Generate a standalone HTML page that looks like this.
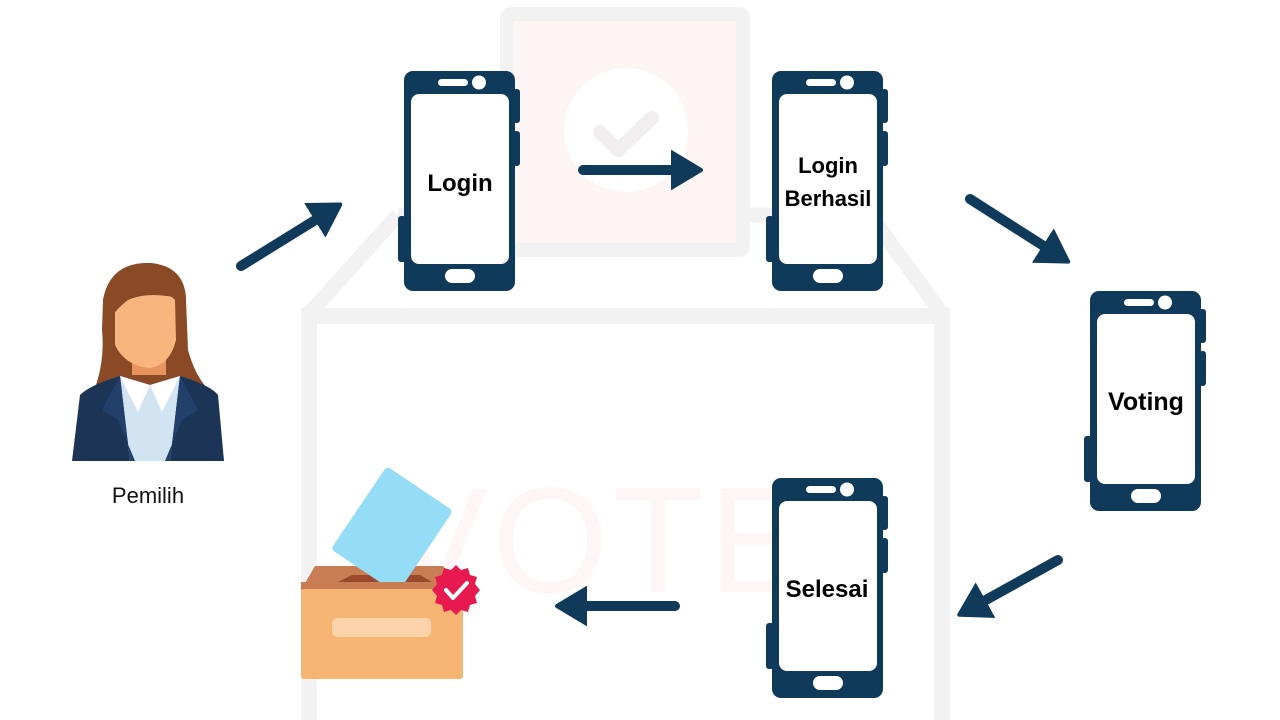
<!DOCTYPE html>
<html><head><meta charset="utf-8"><style>
html,body{margin:0;padding:0;background:#fff;}
svg{display:block}
text{font-family:"Liberation Sans","DejaVu Sans",sans-serif;}
</style></head><body>
<svg width="1280" height="720" viewBox="0 0 1280 720" xmlns="http://www.w3.org/2000/svg">
<defs>
<g id="ph">
  <rect x="0" y="0" width="111" height="220" rx="9" fill="#0f3a5a"/>
  <rect x="109" y="18" width="7" height="34" rx="3" fill="#0f3a5a"/>
  <rect x="109" y="60" width="7" height="35" rx="3" fill="#0f3a5a"/>
  <rect x="-6" y="145" width="8" height="46" rx="3" fill="#0f3a5a"/>
  <rect x="7" y="23" width="98" height="170" rx="8" fill="#fff"/>
  <rect x="34" y="8" width="30" height="7" rx="3.5" fill="#fff"/>
  <circle cx="75" cy="11.5" r="7" fill="#fff"/>
  <rect x="41" y="198" width="30" height="14" rx="7" fill="#fff"/>
</g>
<marker id="ah" markerWidth="4" markerHeight="4" refX="1.2" refY="2" orient="auto" markerUnits="strokeWidth">
  <path d="M0,0.2 L3,2 L0,3.8 Z" fill="#0f3a5a" stroke="#0f3a5a" stroke-width="0.4" stroke-linejoin="round"/>
</marker>
</defs>

<!-- background ballot box -->
<path d="M398,215 L870,215 M398,215 L308,315 M870,215 L943,315" fill="none" stroke="#f2f2f2" stroke-width="15" stroke-linejoin="round"/>
<path d="M301,316 L950,316" stroke="#f2f2f2" stroke-width="16"/>
<path d="M309,316 L309,720 M942,316 L942,720" stroke="#f2f2f2" stroke-width="16"/>
<rect x="507" y="14" width="236" height="236" fill="#fdf4f4" stroke="#f2f2f2" stroke-width="14" rx="4"/>
<circle cx="626" cy="130" r="62" fill="#ffffff"/>
<path d="M600,132 L618,150 L652,118" fill="none" stroke="#f0eeee" stroke-width="14" stroke-linecap="round" stroke-linejoin="round"/>
<text x="600" y="592" font-size="150" fill="#fef6f6" text-anchor="middle" style="letter-spacing:4px">VOTE</text>

<!-- phones -->
<use href="#ph" x="404" y="71"/>
<use href="#ph" x="772" y="71"/>
<use href="#ph" x="1090" y="291"/>
<use href="#ph" x="772" y="478"/>
<g font-weight="bold" fill="#000" text-anchor="middle">
<text x="460" y="191" font-size="24">Login</text>
<text x="828" y="173" font-size="22">Login</text>
<text x="828" y="206" font-size="22">Berhasil</text>
<text x="1146" y="410" font-size="25">Voting</text>
<text x="827" y="597" font-size="24">Selesai</text>
</g>

<!-- arrows -->
<g stroke="#0f3a5a" stroke-width="10" stroke-linecap="round" fill="none" marker-end="url(#ah)">
<line x1="241" y1="266" x2="325" y2="214"/>
<line x1="583" y1="170" x2="683" y2="170"/>
<line x1="970" y1="199" x2="1053" y2="252"/>
<line x1="1058" y1="560" x2="975" y2="606"/>
<line x1="675" y1="606" x2="575" y2="606"/>
</g>

<!-- person -->
<g>
<path d="M103,300 Q110,262 150,263 Q185,266 186,300 L188,350 Q195,375 207,388 L95,388 Q105,360 102,330 Z" fill="#8a4a26"/>
<rect x="132" y="345" width="34" height="30" fill="#e8935e"/>
<path d="M115,300 Q118,290 135,290 Q165,288 175,300 L176,340 Q170,365 150,368 Q125,366 115,345 Z" fill="#f8b67e"/>
<path d="M103,300 Q110,262 150,263 Q185,266 186,300 Q150,290 128,300 Q115,310 110,320 Z" fill="#8a4a26"/>
<path d="M80,395 Q90,385 120,376 L150,385 L180,376 Q210,385 218,395 L224,461 L72,461 Z" fill="#1c3557"/>
<path d="M120,376 L150,385 L180,376 L170,461 L130,461 Z" fill="#d2e3f2"/>
<path d="M120,376 L150,385 L138,412 Z" fill="#fff"/>
<path d="M180,376 L150,385 L162,412 Z" fill="#fff"/>
<path d="M120,376 L102,410 L118,420 L135,461 L130,461 Z" fill="#22406a"/>
<path d="M180,376 L198,410 L182,420 L165,461 L170,461 Z" fill="#22406a"/>
</g>
<text x="148" y="503" font-size="22" text-anchor="middle" fill="#111">Pemilih</text>

<!-- ballot box -->
<g>
<path d="M315,566 L443,566 L462,590 L301,590 Z" fill="#c97d55"/>
<path d="M338,582 L352,575 L420,575 L432,582 Z" fill="#9a4a2a"/>
<rect x="352" y="480" width="80" height="100" rx="4" fill="#95dcf6" transform="rotate(34 392 530)"/>
<rect x="301" y="582" width="162" height="8" fill="#c97d55"/>
<rect x="301" y="589" width="162" height="90" rx="3" fill="#f7b574"/>
<rect x="332" y="618" width="99" height="19" rx="5" fill="#fad3aa"/>
<polygon points="456,565 461,570 468,568 470,575 477,577 475,584 480,590 475,596 477,603 470,605 468,612 461,610 456,615 451,610 444,612 442,605 435,603 437,596 432,590 437,584 435,577 442,575 444,568 451,570" fill="#e8194e"/>
<path d="M446,590 L453,598 L467,583" fill="none" stroke="#fff" stroke-width="4" stroke-linecap="round" stroke-linejoin="round"/>
</g>
</svg>
</body></html>
